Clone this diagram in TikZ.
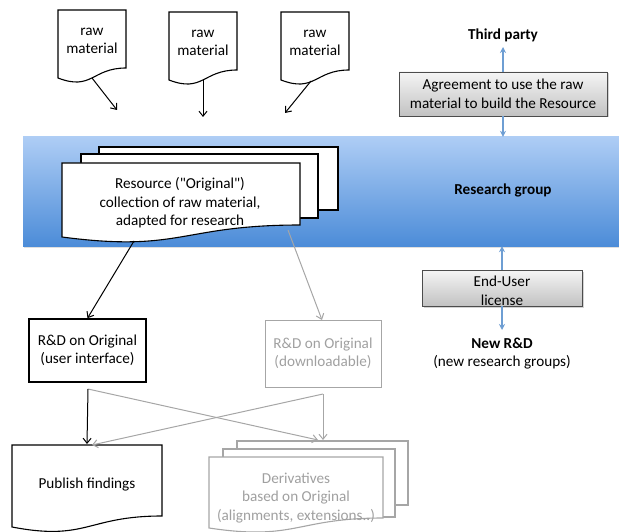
\documentclass[tikz,border=0pt]{standalone}
\usepackage{fontspec}
\setmainfont{Carlito}
\newfontfamily\plainfont{Carlito}
\usetikzlibrary{arrows.meta,shadows}
\definecolor{bandtop}{HTML}{AECDF5}
\definecolor{bandbot}{HTML}{4C8CD8}
\definecolor{linkblue}{HTML}{6E9ED3}
\definecolor{greyline}{HTML}{A6A6A6}
\definecolor{greytext}{HTML}{A0A0A0}
\newcommand\docshape[6]{%
  \pgfmathsetmacro\dmx{(#2+#4)/2}%
  \path[#1] (#2,#3) -- (#4,#3) -- (#4,#5-#6) .. controls (\dmx,#5-#6) and (\dmx,#5+1.31*#6) .. (#2,#5) -- cycle;}
\begin{document}
\begin{tikzpicture}[x=1pt,y=-1pt,
  font=\fontsize{15.2}{18.5}\selectfont,
  txt/.style={align=center, inner sep=0pt},
  blackdoc/.style={draw=black, line width=1.1pt, fill=white},
  greydoc/.style={draw=greyline, line width=1.1pt, fill=white},
  blk/.style={draw=black, line width=1pt, -{Straight Barb[length=5pt,width=8pt]}},
  gry/.style={draw=greyline, line width=1pt, -{Straight Barb[length=5pt,width=8pt]}},
  blu/.style={draw=linkblue, line width=1.3pt, -{Stealth[length=6pt,width=6pt]}},
  grbox/.style={draw=black!70, line width=0.8pt, top color=black!4, bottom color=black!24,
     inner sep=0pt, drop shadow={shadow xshift=1.5pt, shadow yshift=-1.5pt, opacity=0.35}},
  bandstyle/.style={top color=bandtop, bottom color=bandbot, inner sep=0pt,
     drop shadow={shadow xshift=1pt, shadow yshift=-1.5pt, opacity=0.25}},
]
\useasboundingbox (0,0) rectangle (619,532);

% research group band
\node[bandstyle, minimum width=600pt, minimum height=109pt] (band) at (323,191.5) {};
\node[txt, font=\fontsize{15.2}{18.5}\selectfont\bfseries] (rg) at (503,190) {Research group};

% raw material documents
\docshape{blackdoc}{58}{10}{126}{78}{10}
\docshape{blackdoc}{169}{12}{237}{80}{10}
\docshape{blackdoc}{281}{12}{349}{80}{10}
\node[txt] (raw1) at (92,41) {raw\\material};
\node[txt] (raw2) at (203,43) {raw\\material};
\node[txt] (raw3) at (315,43) {raw\\material};
\coordinate (r1s) at (92,78);  \coordinate (r1e) at (117,110);
\coordinate (r2s) at (203,80); \coordinate (r2e) at (203,117);
\coordinate (r3s) at (311,81); \coordinate (r3e) at (285,113);
\draw[blk] (r1s) -- (r1e);
\draw[blk] (r2s) -- (r2e);
\draw[blk] (r3s) -- (r3e);

% third party
\node[txt, font=\fontsize{15.2}{18.5}\selectfont\bfseries] (third) at (503,35) {Third party};
\node[grbox, minimum width=208pt, minimum height=44pt, align=center] (agree) at (503,94)
  {Agreement to use the raw\\material to build the Resource};
\coordinate (tpend) at (503,47);
\draw[blu] (agree.north) -- (tpend);
\draw[blu] (agree.south) -- (agree.south |- band.north);

% resource stack
\path[blackdoc] (99,147) rectangle (338,210);
\path[blackdoc] (81,154) rectangle (318,218);
\docshape{blackdoc}{62}{163}{300}{237}{12}
\node[txt, font=\plainfont\fontsize{15.2}{18.5}\selectfont] (res) at (180,203) {Resource ("Original")\\collection of raw material,\\adapted for research};

% end user license
\node[grbox, minimum width=160pt, minimum height=36pt] (eu) at (502,288) {};
\node[txt] (eutext) at (502,291) {End-User\\license};
\draw[blu] (eu.north) -- (eu.north |- band.south);
\coordinate (nrdend) at (502,330);
\draw[blu] (eu.south) -- (nrdend);
\node[txt, font=\fontsize{15.2}{18.5}\selectfont\bfseries] (newrd) at (502,343) {New R\&D};
\node[txt] (newrdsub) at (502,362) {(new research groups)};

% R&D boxes
\node[draw=black, line width=1.6pt, minimum width=117pt, minimum height=63pt, inner sep=0pt, align=center]
  (ui) at (87.5,350.5) {R\&D on Original\\(user interface)};
\node[draw=greyline, line width=1pt, minimum width=116pt, minimum height=67pt, inner sep=0pt, align=center, text=greytext]
  (dl) at (323,353.5) {R\&D on Original\\(downloadable)};
\coordinate (ress1) at (134,241);
\coordinate (ress2) at (288,230);
\draw[blk] (ress1) -- (ui.north);
\draw[gry] (ress2) -- (322,320) coordinate (dlin);

% publish findings
\docshape{blackdoc}{12}{445}{162}{527}{11}
\node[txt] (pub) at (87,485) {Publish findings};

% derivatives stack
\path[greydoc] (237,441) rectangle (408,505);
\path[greydoc] (223,449) rectangle (395,517);
\docshape{greydoc}{209}{457}{383}{528}{10}
\node[txt, text=greytext] (der) at (296,498) {Derivatives\\based on Original\\(alignments, extensions..)};

% crossing connectors
\coordinate (uiout) at (88,389);
\coordinate (dlout) at (323,394);
\coordinate (pubin1) at (87,444);
\coordinate (pubin2) at (92,445);
\coordinate (derin1) at (318,440);
\coordinate (derin2) at (323,440);
\draw[gry] (uiout) -- (derin1);
\draw[gry] (dlout) -- (derin2);
\draw[gry] (dlout) -- (pubin2);
\draw[blk] (uiout) -- (pubin1);
\end{tikzpicture}
\end{document}
